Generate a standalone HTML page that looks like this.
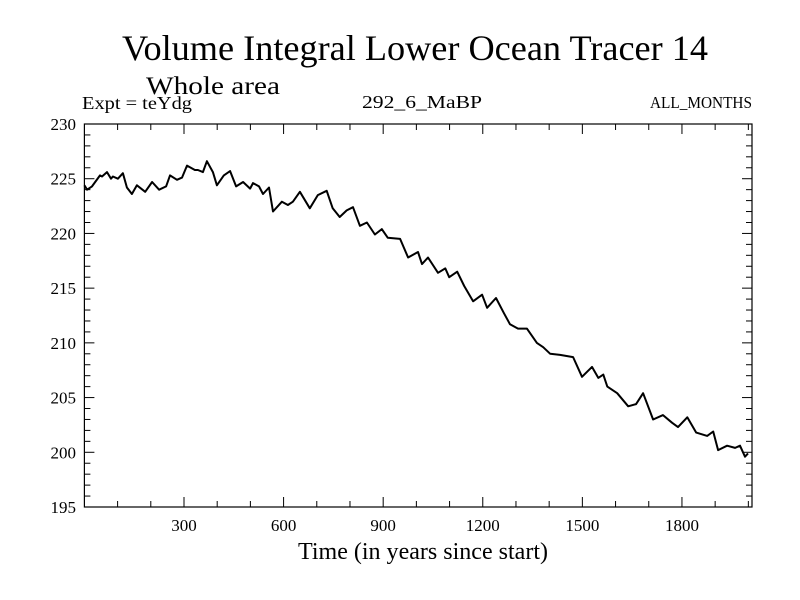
<!DOCTYPE html>
<html><head><meta charset="utf-8"><style>
body{margin:0;background:#fff;}
svg{display:block;font-family:"Liberation Serif",serif;}
</style></head><body>
<svg id="chart" width="800" height="600">
<text x="415" y="60" font-size="36" text-anchor="middle" textLength="586" lengthAdjust="spacingAndGlyphs">Volume Integral Lower Ocean Tracer 14</text>
<text x="146" y="94" font-size="25" textLength="134" lengthAdjust="spacingAndGlyphs">Whole area</text>
<text x="82" y="109" font-size="18" textLength="110" lengthAdjust="spacingAndGlyphs">Expt = teYdg</text>
<text x="422" y="108" font-size="18" text-anchor="middle" textLength="120" lengthAdjust="spacingAndGlyphs">292_6_MaBP</text>
<text x="752" y="108" font-size="17" text-anchor="end" textLength="102" lengthAdjust="spacingAndGlyphs">ALL_MONTHS</text>
<text x="423" y="559" font-size="24" text-anchor="middle" textLength="250" lengthAdjust="spacingAndGlyphs">Time (in years since start)</text>
<g id="axes"></g>
<path id="line" fill="none" stroke="#000" stroke-width="2" stroke-linejoin="round"/>
<rect x="84.4" y="124" width="667.6" height="383" fill="none" stroke="#000" stroke-width="1.2"/>
</svg>
<script>
const years=[0,8,23,47,53,68,80,86,101,116,128,143,158,183,204,225,246,258,279,294,309,333,342,357,369,387,399,420,439,457,478,499,508,526,538,556,568,595,613,628,649,679,703,730,748,769,790,809,830,851,875,896,914,951,975,1005,1017,1035,1065,1087,1099,1123,1144,1171,1198,1213,1240,1264,1282,1306,1333,1363,1382,1403,1433,1472,1499,1529,1548,1563,1575,1605,1638,1662,1683,1713,1743,1770,1788,1816,1843,1876,1894,1909,1936,1960,1975,1990,1999,2011];
const values=[224.4,224.0,224.3,225.3,225.2,225.6,225.0,225.2,225.0,225.5,224.2,223.6,224.4,223.8,224.7,224.0,224.3,225.3,224.9,225.1,226.2,225.8,225.8,225.6,226.6,225.6,224.4,225.3,225.7,224.3,224.7,224.1,224.6,224.3,223.6,224.2,222.0,222.9,222.6,222.9,223.8,222.3,223.5,223.9,222.3,221.5,222.1,222.4,220.7,221.0,219.9,220.4,219.6,219.5,217.8,218.3,217.2,217.8,216.4,216.8,216.0,216.5,215.2,213.8,214.4,213.2,214.1,212.7,211.7,211.3,211.3,210.0,209.6,209.0,208.9,208.7,206.9,207.8,206.8,207.1,206.0,205.4,204.2,204.4,205.4,203.0,203.4,202.7,202.3,203.2,201.8,201.5,201.9,200.2,200.6,200.4,200.6,199.6,199.9];
const xTicks=[300,600,900,1200,1500,1800];
const yTicks=[195,200,205,210,215,220,225,230];
const X0=84.4,X1=752,Y0=507,Y1=124,xmin=0,xmax=2011,ymin=195,ymax=230;
const xs=v=>X0+(v-xmin)/(xmax-xmin)*(X1-X0);
const ys=v=>Y0-(v-ymin)/(ymax-ymin)*(Y0-Y1);
const NS="http://www.w3.org/2000/svg";
const g=document.getElementById('axes');
function mk(t,a){const e=document.createElementNS(NS,t);for(const k in a)e.setAttribute(k,a[k]);g.appendChild(e);return e;}
for(let v=100;v<=2000;v+=100){const major=v%300===0;const x=xs(v);
const t1=mk('line',{x1:x,x2:x,y1:Y0,y2:Y0-(major?10:6),stroke:'#000'});


const t2=mk('line',{x1:x,x2:x,y1:Y1,y2:Y1+(major?10:6),stroke:'#000'});

}
xTicks.forEach(v=>{const t=mk('text',{x:xs(v),y:531,'font-size':17,'text-anchor':'middle'});t.textContent=v;

});
for(let v=195;v<=230;v+=1){const major=v%5===0;const y=ys(v);
const t1=mk('line',{x1:X0,x2:X0+(major?10:6),y1:y,y2:y,stroke:'#000'});


const t2=mk('line',{x1:X1,x2:X1-(major?10:6),y1:y,y2:y,stroke:'#000'});

}
yTicks.forEach(v=>{const t=mk('text',{x:76,y:ys(v)+6,'font-size':17,'text-anchor':'end'});t.textContent=v;

});
document.getElementById('line').setAttribute('d',years.map((y,i)=>(i?'L':'M')+xs(y).toFixed(1)+','+ys(values[i]).toFixed(1)).join(''));
</script>
</body></html>
